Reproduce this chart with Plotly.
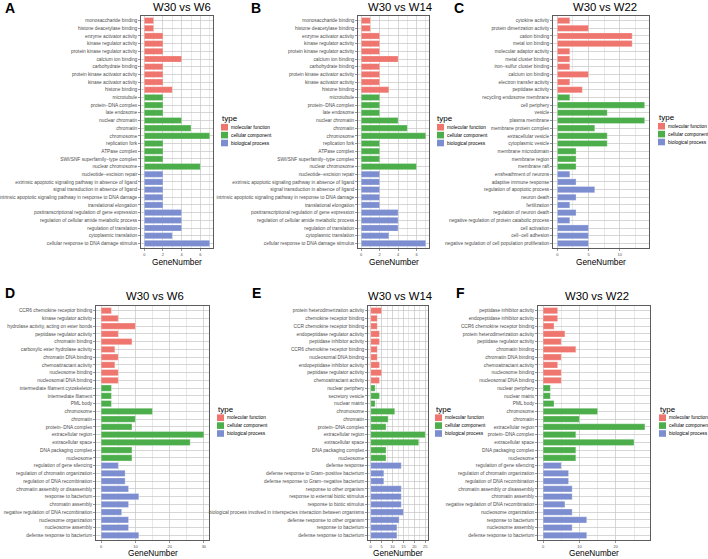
import plotly.graph_objects as go

W, H = 708, 559
FONT = "Liberation Sans, Arial, sans-serif"

# ---------------- data ----------------
type_names = ["molecular function", "cellular component", "biological process"]
type_colors = ["#EF766F", "#4CAE4A", "#7C8ED0"]

# Panel A: W30 vs W6
a_terms = ["monosaccharide binding", "histone deacetylase binding", "enzyme activator activity",
           "kinase regulator activity", "protein kinase regulator activity", "calcium ion binding",
           "carbohydrate binding", "protein kinase activator activity", "kinase activator activity",
           "histone binding",
           "microtubule", "protein−DNA complex", "late endosome", "nuclear chromatin", "chromatin",
           "chromosome", "replication fork", "ATPase complex", "SWI/SNF superfamily−type complex",
           "nuclear chromosome",
           "nucleotide−excision repair", "extrinsic apoptotic signaling pathway in absence of ligand",
           "signal transduction in absence of ligand",
           "intrinsic apoptotic signaling pathway in response to DNA damage", "translational elongation",
           "posttranscriptional regulation of gene expression",
           "regulation of cellular amide metabolic process", "regulation of translation",
           "cytoplasmic translation", "cellular response to DNA damage stimulus"]
a_counts = [1, 1, 2, 2, 2, 4, 2, 2, 2, 3,
            2, 2, 2, 4, 5, 7, 2, 2, 2, 6,
            2, 2, 2, 2, 2, 4, 4, 4, 3, 7]
a_types = [0] * 10 + [1] * 10 + [2] * 10

# Panel B: W30 vs W14
b_terms = list(a_terms)
b_counts = [1, 1, 2, 2, 2, 4, 2, 2, 2, 3,
            2, 2, 2, 4, 5, 7, 2, 2, 2, 6,
            2, 2, 2, 2, 2, 4, 4, 4, 3, 7]
b_types = [0] * 10 + [1] * 10 + [2] * 10

# Panel C: W30 vs W22
c_terms = ["cytokine activity", "protein dimerization activity", "cation binding", "metal ion binding",
           "molecular adaptor activity", "metal cluster binding", "iron−sulfur cluster binding",
           "calcium ion binding", "electron transfer activity", "peptidase activity",
           "recycling endosome membrane", "cell periphery", "vesicle", "plasma membrane",
           "membrane protein complex", "extracellular vesicle", "cytoplasmic vesicle",
           "membrane microdomain", "membrane region", "membrane raft",
           "ensheathment of neurons", "adaptive immune response", "regulation of apoptotic process",
           "neuron death", "fertilization", "regulation of neuron death",
           "negative regulation of protein catabolic process", "cell activation", "cell−cell adhesion",
           "negative regulation of cell population proliferation"]
c_counts = [2, 5, 12, 12, 2, 2, 2, 5, 2, 4,
            2, 14, 8, 14, 6, 8, 8, 3, 3, 3,
            2, 3, 6, 3, 2, 3, 2, 5, 5, 5]
c_types = [0] * 10 + [1] * 10 + [2] * 10

# Panel D: W30 vs W6
d_terms = ["CCR6 chemokine receptor binding", "kinase regulator activity",
           "hydrolase activity, acting on ester bonds", "peptidase regulator activity",
           "chromatin binding", "carboxylic ester hydrolase activity", "chromatin DNA binding",
           "chemoattractant activity", "nucleosome binding", "nucleosomal DNA binding",
           "intermediate filament cytoskeleton", "intermediate filament", "PML body", "chromosome",
           "chromatin", "protein−DNA complex", "extracellular region", "extracellular space",
           "DNA packaging complex", "nucleosome",
           "regulation of gene silencing", "regulation of chromatin organization",
           "regulation of DNA recombination", "chromatin assembly or disassembly",
           "response to bacterium", "chromatin assembly", "negative regulation of DNA recombination",
           "nucleosome organization", "nucleosome assembly", "defense response to bacterium"]
d_counts = [3, 5, 10, 5, 9, 4, 5, 4, 5, 5,
            3, 3, 3, 15, 10, 9, 30, 26, 9, 9,
            5, 7, 7, 8, 11, 8, 6, 8, 8, 11]
d_types = [0] * 10 + [1] * 10 + [2] * 10

# Panel E: W30 vs W14
e_terms = ["protein heterodimerization activity", "chemokine receptor binding",
           "CCR chemokine receptor binding", "endopeptidase regulator activity",
           "peptidase inhibitor activity", "CCR6 chemokine receptor binding", "nucleosomal DNA binding",
           "endopeptidase inhibitor activity", "peptidase regulator activity", "chemoattractant activity",
           "nuclear periphery", "secretory vesicle", "nuclear matrix", "chromosome", "chromatin",
           "protein−DNA complex", "extracellular region", "extracellular space",
           "DNA packaging complex", "nucleosome",
           "defense response", "defense response to Gram−positive bacterium",
           "defense response to Gram−negative bacterium", "response to other organism",
           "response to external biotic stimulus", "response to biotic stimulus",
           "biological process involved in interspecies interaction between organisms",
           "defense response to other organism", "response to bacterium", "defense response to bacterium"]
e_counts = [5, 3, 3, 4, 4, 3, 3, 4, 5, 4,
            2, 4, 2, 11, 8, 7, 25, 22, 7, 7,
            14, 6, 6, 14, 14, 14, 15, 13, 12, 12]
e_types = [0] * 10 + [1] * 10 + [2] * 10

# Panel F: W30 vs W22
f_terms = ["peptidase inhibitor activity", "endopeptidase inhibitor activity",
           "CCR6 chemokine receptor binding", "protein heterodimerization activity",
           "peptidase regulator activity", "chromatin binding", "chromatin DNA binding",
           "chemoattractant activity", "nucleosome binding", "nucleosomal DNA binding",
           "nuclear periphery", "nuclear matrix", "PML body", "chromosome", "chromatin",
           "extracellular region", "protein−DNA complex", "extracellular space",
           "DNA packaging complex", "nucleosome",
           "regulation of gene silencing", "regulation of chromatin organization",
           "regulation of DNA recombination", "chromatin assembly or disassembly",
           "chromatin assembly", "negative regulation of DNA recombination",
           "nucleosome organization", "response to bacterium", "nucleosome assembly",
           "defense response to bacterium"]
f_counts = [4, 4, 3, 6, 5, 9, 5, 4, 5, 5,
            2, 2, 3, 15, 10, 28, 9, 25, 9, 9,
            5, 7, 7, 8, 8, 6, 8, 12, 8, 12]
f_types = [0] * 10 + [1] * 10 + [2] * 10

# ---------------- layout config (pixels) ----------------
panels = [
    dict(letter="A", title="W30 vs W6", terms=a_terms, counts=a_counts, types=a_types,
         box=(141, 213, 16, 248), dtick=2, letter_xy=(10, 8), title_xy=(182, 6.5),
         legend_xy=(221, 118.5), gn_y=262),
    dict(letter="B", title="W30 vs W14", terms=b_terms, counts=b_counts, types=b_types,
         box=(358, 429, 16, 248), dtick=2, letter_xy=(256, 8), title_xy=(400, 6.5),
         legend_xy=(437, 118.5), gn_y=262),
    dict(letter="C", title="W30 vs W22", terms=c_terms, counts=c_counts, types=c_types,
         box=(553, 649, 16, 248), dtick=5, letter_xy=(459, 8), title_xy=(605, 6.5),
         legend_xy=(658, 117.5), gn_y=262),
    dict(letter="D", title="W30 vs W6", terms=d_terms, counts=d_counts, types=d_types,
         box=(96, 209, 306, 540), dtick=10, letter_xy=(10, 292.5), title_xy=(155, 296),
         legend_xy=(217, 409), gn_y=552.5),
    dict(letter="E", title="W30 vs W14", terms=e_terms, counts=e_counts, types=e_types,
         box=(368, 428, 306, 540), dtick=5, letter_xy=(256, 293), title_xy=(400, 296),
         legend_xy=(435, 409), gn_y=552.5),
    dict(letter="F", title="W30 vs W22", terms=f_terms, counts=f_counts, types=f_types,
         box=(538, 650, 306, 540), dtick=10, letter_xy=(460, 293), title_xy=(597, 296),
         legend_xy=(659, 409), gn_y=552.5),
]


def px(x):
    return x / W


def py(y):
    return 1 - y / H


fig = go.Figure()
annotations = []
shapes = []
layout_axes = {}

for i, p in enumerate(panels):
    n = i + 1
    xa = "x" if n == 1 else f"x{n}"
    ya = "y" if n == 1 else f"y{n}"
    xkey = "xaxis" if n == 1 else f"xaxis{n}"
    ykey = "yaxis" if n == 1 else f"yaxis{n}"
    for t in range(3):
        ys = [term for term, tt in zip(p["terms"], p["types"]) if tt == t]
        xs = [c for c, tt in zip(p["counts"], p["types"]) if tt == t]
        fig.add_trace(go.Bar(
            x=xs, y=ys, orientation="h", xaxis=xa, yaxis=ya,
            marker=dict(color=type_colors[t], line=dict(color="rgba(255,255,255,0.7)", width=0.4)),
            showlegend=False, name=type_names[t],
        ))
    x0, x1, y0, y1 = p["box"]
    mx = max(p["counts"])
    ncat = len(p["terms"])
    d = p["dtick"]
    layout_axes[xkey] = dict(
        domain=[px(x0), px(x1)], anchor=ya, range=[-0.05 * mx, 1.05 * mx],
        tickmode="linear", tick0=0, dtick=d, showgrid=True, gridcolor="#C4C4C4", gridwidth=0.7,
        minor=dict(dtick=d / 2, tick0=0, showgrid=True, gridcolor="#D8D8D8", gridwidth=0.6, ticks=""),
        zeroline=False, showline=True, mirror=True, linecolor="#333333", linewidth=0.8,
        ticks="outside", ticklen=2, tickwidth=0.5, tickcolor="#333333",
        tickfont=dict(family=FONT, size=4, color="#4D4D4D"), fixedrange=True,
    )
    layout_axes[ykey] = dict(
        domain=[py(y1), py(y0)], anchor=xa, type="category",
        categoryorder="array", categoryarray=p["terms"],
        tickmode="array", tickvals=p["terms"], ticktext=p["terms"],
        range=[ncat - 1 + 0.6, -0.6],
        showgrid=True, gridcolor="#C4C4C4", gridwidth=0.7,
        zeroline=False, showline=True, mirror=True, linecolor="#333333", linewidth=0.8,
        ticks="outside", ticklen=2, tickwidth=0.5, tickcolor="#333333",
        tickfont=dict(family=FONT, size=4.8, color="#4D4D4D"), fixedrange=True,
    )
    # panel letter
    lx, ly = p["letter_xy"]
    annotations.append(dict(x=px(lx), y=py(ly), xref="paper", yref="paper", text=f"<b>{p['letter']}</b>",
                            showarrow=False, xanchor="center", yanchor="middle",
                            font=dict(family=FONT, size=14, color="black")))
    tx, ty = p["title_xy"]
    annotations.append(dict(x=px(tx), y=py(ty), xref="paper", yref="paper", text=p["title"],
                            showarrow=False, xanchor="center", yanchor="middle",
                            font=dict(family=FONT, size=11.3, color="black")))
    annotations.append(dict(x=px((x0 + x1) / 2), y=py(p["gn_y"]), xref="paper", yref="paper",
                            text="GeneNumber", showarrow=False, xanchor="center", yanchor="middle",
                            font=dict(family=FONT, size=8.3, color="black")))
    # legend (drawn manually)
    gx, gy = p["legend_xy"]
    annotations.append(dict(x=px(gx - 1.5), y=py(gy), xref="paper", yref="paper", text="type",
                            showarrow=False, xanchor="left", yanchor="middle",
                            font=dict(family=FONT, size=8, color="black")))
    for k, off in enumerate([8.7, 16.6, 24.5]):
        cy = gy + off
        shapes.append(dict(type="rect", xref="paper", yref="paper",
                           x0=px(gx), x1=px(gx + 7), y0=py(cy + 3.3), y1=py(cy - 3.3),
                           fillcolor=type_colors[k], line=dict(width=0)))
        annotations.append(dict(x=px(gx + 8), y=py(cy), xref="paper", yref="paper", text=type_names[k],
                                showarrow=False, xanchor="left", yanchor="middle",
                                font=dict(family=FONT, size=4.8, color="black")))

fig.update_layout(
    width=W, height=H, margin=dict(l=0, r=0, t=0, b=0),
    paper_bgcolor="white", plot_bgcolor="white",
    barmode="overlay", bargap=0.2, showlegend=False,
    annotations=annotations, shapes=shapes,
    font=dict(family=FONT), hovermode=False,
    **layout_axes,
)

fig.write_html("out.html", config={"displayModeBar": False, "staticPlot": True},
               post_script="document.body.style.margin='0px';document.body.style.overflow='hidden';")
